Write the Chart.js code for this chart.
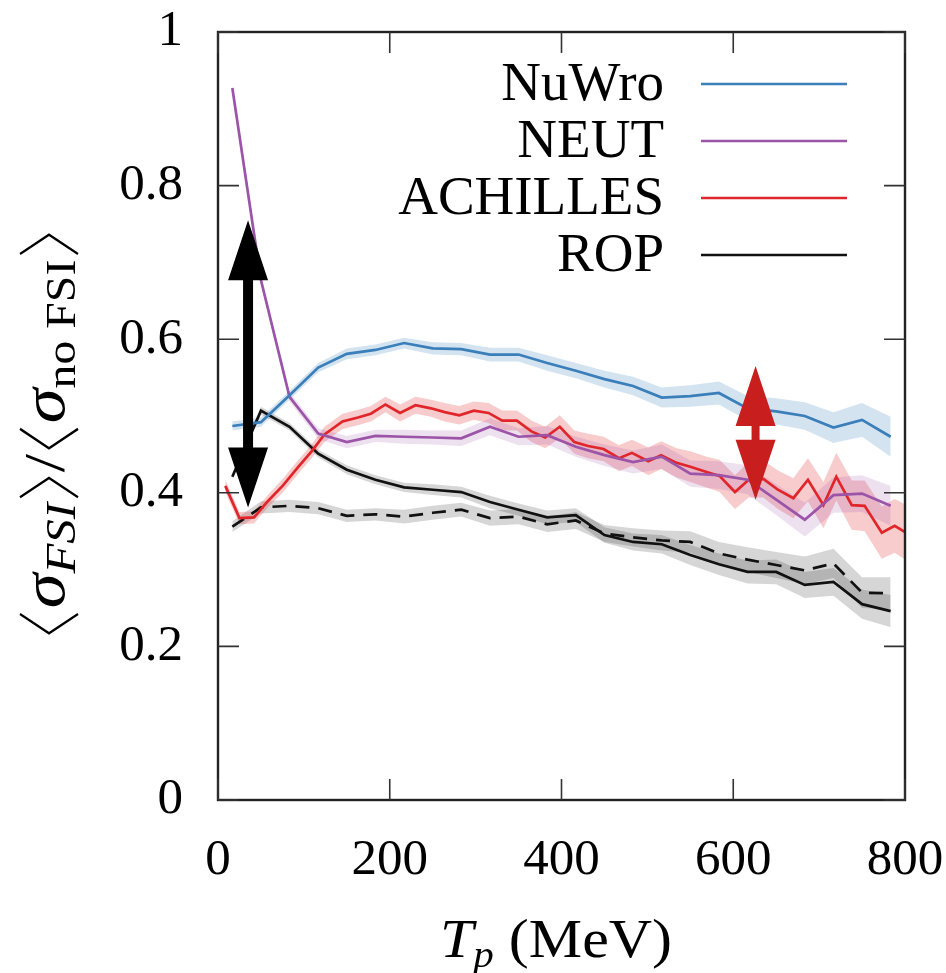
<!DOCTYPE html>
<html>
<head>
<meta charset="utf-8">
<script src="https://cdn.jsdelivr.net/npm/chart.js@4.4.1/dist/chart.umd.min.js"></script>
<style>
  html, body { margin: 0; padding: 0; background: #fff; }
  #wrap { width: 946px; height: 973px; }
</style>
</head>
<body>
<div id="wrap"><canvas id="chart" width="946" height="973"></canvas></div>
<script>
// proton kinetic energy bins (MeV)
const energies = [16.7, 50, 83.3, 116.7, 150, 183.3, 216.7, 250, 283.3, 316.7, 350, 383.3,
    416.7, 450, 483.3, 516.7, 550, 583.3, 616.7, 650, 683.3, 716.7, 750, 783.3];

const nuwro = [0.487, 0.492, 0.527, 0.563, 0.581, 0.586, 0.595, 0.588, 0.587, 0.580, 0.580, 0.569,
    0.559, 0.548, 0.539, 0.524, 0.526, 0.530, 0.510, 0.506, 0.500, 0.485, 0.495, 0.473];
const nuwroErr = [0.006, 0.006, 0.006, 0.006, 0.007, 0.007, 0.007, 0.008, 0.008, 0.009, 0.009, 0.010,
    0.010, 0.011, 0.012, 0.013, 0.014, 0.015, 0.016, 0.017, 0.018, 0.020, 0.022, 0.026];

const neut = [0.927, 0.677, 0.525, 0.477, 0.466, 0.474, 0.473, 0.472, 0.471, 0.486, 0.473, 0.475,
    0.460, 0.449, 0.440, 0.447, 0.425, 0.423, 0.417, 0.391, 0.365, 0.397, 0.399, 0.383];
const neutErr = [0.004, 0.005, 0.006, 0.007, 0.008, 0.008, 0.009, 0.009, 0.010, 0.011, 0.011, 0.012,
    0.013, 0.014, 0.015, 0.016, 0.017, 0.018, 0.019, 0.020, 0.022, 0.023, 0.024, 0.026];

const rop = [0.421, 0.507, 0.486, 0.451, 0.430, 0.417, 0.407, 0.404, 0.401, 0.388, 0.378, 0.368,
    0.371, 0.345, 0.336, 0.333, 0.319, 0.307, 0.297, 0.297, 0.280, 0.284, 0.255, 0.246];
const ropErr = [0.004, 0.005, 0.005, 0.005, 0.006, 0.006, 0.006, 0.007, 0.007, 0.008, 0.008, 0.009,
    0.009, 0.010, 0.011, 0.012, 0.013, 0.014, 0.015, 0.016, 0.017, 0.018, 0.019, 0.021];

const ropDashed = [0.356, 0.381, 0.383, 0.380, 0.370, 0.372, 0.369, 0.374, 0.378, 0.367, 0.369, 0.359,
    0.364, 0.347, 0.342, 0.338, 0.336, 0.321, 0.313, 0.306, 0.299, 0.308, 0.270, 0.269];
const ropDashedErr = [0.007, 0.008, 0.008, 0.008, 0.008, 0.008, 0.009, 0.009, 0.009, 0.010, 0.010, 0.010,
    0.011, 0.011, 0.012, 0.013, 0.014, 0.015, 0.016, 0.017, 0.018, 0.019, 0.020, 0.021];

// ACHILLES has finer binning
const achillesEnergies = [8.5, 25, 42, 58, 76, 93, 109, 124, 145, 163, 178, 195,
    212, 230, 248, 264, 281, 298, 315, 331, 348, 365, 381, 398,
    415, 431, 449, 467, 482, 501, 516, 534, 550, 569, 584, 602,
    618, 635, 652, 670, 687, 705, 720, 738, 753, 773, 788, 800];
const achilles = [0.409, 0.367, 0.368, 0.389, 0.410, 0.433, 0.454, 0.476, 0.493, 0.498, 0.503, 0.515,
    0.504, 0.514, 0.510, 0.505, 0.501, 0.507, 0.504, 0.494, 0.494, 0.480, 0.472, 0.486,
    0.466, 0.461, 0.457, 0.445, 0.452, 0.441, 0.449, 0.439, 0.434, 0.427, 0.422, 0.401,
    0.417, 0.418, 0.404, 0.393, 0.417, 0.384, 0.421, 0.384, 0.383, 0.348, 0.357, 0.349];
const achillesErr = [0.008, 0.008, 0.008, 0.008, 0.009, 0.009, 0.009, 0.010, 0.010, 0.010, 0.010, 0.010,
    0.011, 0.011, 0.011, 0.012, 0.012, 0.012, 0.013, 0.013, 0.013, 0.014, 0.014, 0.015,
    0.015, 0.016, 0.016, 0.017, 0.017, 0.018, 0.018, 0.019, 0.020, 0.020, 0.021, 0.022,
    0.023, 0.024, 0.025, 0.026, 0.028, 0.030, 0.031, 0.032, 0.033, 0.034, 0.035, 0.036];

const legendLabels = ["NuWro", "NEUT", "ACHILLES", "ROP"];
const xTicks = [0, 200, 400, 600, 800];
const yTicks = [0, 0.2, 0.4, 0.6, 0.8, 1];

const colors = {
    nuwro: "#3a7fba",
    neut: "#9b54a8",
    achilles: "#e0262a",
    rop: "#111111"
};

const SERIF = '"Liberation Serif", "DejaVu Serif", serif';

function points(xs, ys, shift) {
    return xs.map((x, i) => ({ x: x, y: ys[i] + (shift ? shift[i] : 0) }));
}

function neg(arr) {
    return arr.map(v => -v);
}

function bandSets(xs, ys, err, fillColor) {
    return [
        { data: points(xs, ys, neg(err)), borderWidth: 0, pointRadius: 0, fill: false, order: 10 },
        { data: points(xs, ys, err), borderWidth: 0, pointRadius: 0, fill: "-1", backgroundColor: fillColor, order: 10 }
    ];
}

function lineSet(xs, ys, color, dash) {
    return {
        data: points(xs, ys),
        borderColor: color,
        borderWidth: 2.7,
        borderDash: dash || [],
        pointRadius: 0,
        fill: false,
        tension: 0,
        order: 1
    };
}

const datasets = [
    ...bandSets(energies, nuwro, nuwroErr, "rgba(58,127,186,0.22)"),
    ...bandSets(energies, neut, neutErr, "rgba(155,84,168,0.18)"),
    ...bandSets(achillesEnergies, achilles, achillesErr, "rgba(224,38,42,0.24)"),
    ...bandSets(energies, ropDashed, ropDashedErr, "rgba(0,0,0,0.16)"),
    ...bandSets(energies, rop, ropErr, "rgba(0,0,0,0.16)"),
    lineSet(energies, nuwro, colors.nuwro),
    lineSet(energies, neut, colors.neut),
    lineSet(achillesEnergies, achilles, colors.achilles),
    lineSet(energies, ropDashed, colors.rop, [14, 9]),
    lineSet(energies, rop, colors.rop)
];

// draw text made of several runs (italic, subscripts, angle brackets), stretched to a given width
function drawRuns(ctx, runs, cx, baseY, targetW) {
    let total = 0;
    runs.forEach(r => {
        if (r.bracket) {
            r.w = r.bw;
        } else {
            ctx.font = r.font;
            r.w = ctx.measureText(r.t).width;
        }
        total += r.w;
    });
    const k = targetW ? targetW / total : 1;
    ctx.save();
    ctx.translate(cx, baseY);
    ctx.scale(k, 1);
    let x = -total / 2;
    ctx.textAlign = "left";
    ctx.textBaseline = "alphabetic";
    runs.forEach(r => {
        if (r.bracket) {
            const pad = 5;
            const tipX = r.bracket === "L" ? x + pad : x + r.w - pad;
            const endX = r.bracket === "L" ? x + r.w - pad : x + pad;
            ctx.strokeStyle = "#000";
            ctx.lineWidth = 2.2;
            ctx.beginPath();
            ctx.moveTo(endX, -r.up);
            ctx.lineTo(tipX, -(r.up - r.h / 2));
            ctx.lineTo(endX, r.h - r.up);
            ctx.stroke();
        } else {
            ctx.font = r.font;
            ctx.fillText(r.t, x, r.dy || 0);
        }
        x += r.w;
    });
    ctx.restore();
}

function drawArrow(ctx, x, yTop, yBot, shaftW, headW, headL, color) {
    ctx.fillStyle = color;
    ctx.beginPath();
    ctx.moveTo(x, yTop);
    ctx.lineTo(x + headW / 2, yTop + headL);
    ctx.lineTo(x + shaftW / 2, yTop + headL);
    ctx.lineTo(x + shaftW / 2, yBot - headL);
    ctx.lineTo(x + headW / 2, yBot - headL);
    ctx.lineTo(x, yBot);
    ctx.lineTo(x - headW / 2, yBot - headL);
    ctx.lineTo(x - shaftW / 2, yBot - headL);
    ctx.lineTo(x - shaftW / 2, yTop + headL);
    ctx.lineTo(x - headW / 2, yTop + headL);
    ctx.closePath();
    ctx.fill();
}

const decorations = {
    id: "decorations",
    afterDatasetsDraw(chart) {
        const ctx = chart.ctx;
        const area = chart.chartArea;
        const xs = chart.scales.x;
        const ys = chart.scales.y;
        ctx.save();

        // frame with inward ticks on all sides
        ctx.strokeStyle = "#222";
        ctx.lineWidth = 2.4;
        ctx.strokeRect(area.left, area.top, area.right - area.left, area.bottom - area.top);
        ctx.lineWidth = 1.6;
        ctx.strokeStyle = "#333";
        const tl = 21;
        ctx.beginPath();
        xTicks.forEach(v => {
            const px = xs.getPixelForValue(v);
            ctx.moveTo(px, area.bottom); ctx.lineTo(px, area.bottom - tl);
            ctx.moveTo(px, area.top); ctx.lineTo(px, area.top + tl);
        });
        yTicks.forEach(v => {
            const py = ys.getPixelForValue(v);
            ctx.moveTo(area.left, py); ctx.lineTo(area.left + tl, py);
            ctx.moveTo(area.right, py); ctx.lineTo(area.right - tl, py);
        });
        ctx.stroke();

        // arrows
        drawArrow(ctx, xs.getPixelForValue(35), ys.getPixelForValue(0.755), ys.getPixelForValue(0.381),
            10, 40, 60, "#000");
        drawArrow(ctx, xs.getPixelForValue(626), ys.getPixelForValue(0.565), ys.getPixelForValue(0.391),
            8, 40, 60, "#c81e1e");

        // legend
        const legendColors = [colors.nuwro, colors.neut, colors.achilles, colors.rop];
        ctx.font = "55px " + SERIF;
        ctx.textAlign = "right";
        ctx.textBaseline = "middle";
        legendLabels.forEach((label, i) => {
            const y = 84 + i * 57;
            ctx.fillStyle = "#000";
            ctx.fillText(label, 664, y + 2);
            ctx.strokeStyle = legendColors[i];
            ctx.lineWidth = 2.7;
            ctx.beginPath();
            ctx.moveTo(701, y);
            ctx.lineTo(847, y);
            ctx.stroke();
        });

        // axis titles
        ctx.fillStyle = "#000";
        drawRuns(ctx, [
            { t: "T", font: "italic 54px " + SERIF },
            { t: "p", font: "italic 37px " + SERIF, dy: 10 },
            { t: " (MeV)", font: "54px " + SERIF }
        ], 556, 957, 232);

        ctx.translate(42, 434);
        ctx.rotate(-Math.PI / 2);
        const br = { bw: 27, h: 58, up: 44 };
        drawRuns(ctx, [
            { bracket: "L", ...br },
            { t: "\u03C3", font: "italic 62px " + SERIF },
            { t: "FSI", font: "italic 43px " + SERIF, dy: 11 },
            { bracket: "R", ...br },
            { t: "/", font: "58px " + SERIF },
            { bracket: "L", ...br },
            { t: "\u03C3", font: "italic 62px " + SERIF },
            { t: "no FSI", font: "42px " + SERIF, dy: 11 },
            { bracket: "R", ...br }
        ], 0, 22, 410);
        ctx.restore();
    }
};

function noPad(s) {
    s.paddingTop = 0;
    s.paddingBottom = 0;
    s.paddingLeft = 0;
    s.paddingRight = 0;
}

const ctx = document.getElementById("chart").getContext("2d");
new Chart(ctx, {
    type: "line",
    data: { datasets: datasets },
    options: {
        responsive: false,
        animation: false,
        layout: { padding: { top: 32, right: 41, left: 0, bottom: 0 } },
        plugins: {
            legend: { display: false },
            tooltip: { enabled: false }
        },
        scales: {
            x: {
                type: "linear",
                min: 0,
                max: 800,
                afterFit: s => { s.height = 173; noPad(s); },
                afterBuildTicks: s => { s.ticks = xTicks.map(v => ({ value: v })); },
                grid: { display: false, drawTicks: false },
                border: { display: false },
                ticks: {
                    color: "#000",
                    padding: 30,
                    maxRotation: 0,
                    font: { family: SERIF, size: 51 },
                    callback: v => String(v)
                }
            },
            y: {
                type: "linear",
                min: 0,
                max: 1,
                afterFit: s => { s.width = 218; noPad(s); },
                afterBuildTicks: s => { s.ticks = yTicks.map(v => ({ value: v })); },
                grid: { display: false, drawTicks: false },
                border: { display: false },
                ticks: {
                    color: "#000",
                    padding: 35,
                    font: { family: SERIF, size: 51 },
                    callback: v => (v === 0 || v === 1) ? String(v) : v.toFixed(1)
                }
            }
        }
    },
    plugins: [decorations]
});
</script>
</body>
</html>
